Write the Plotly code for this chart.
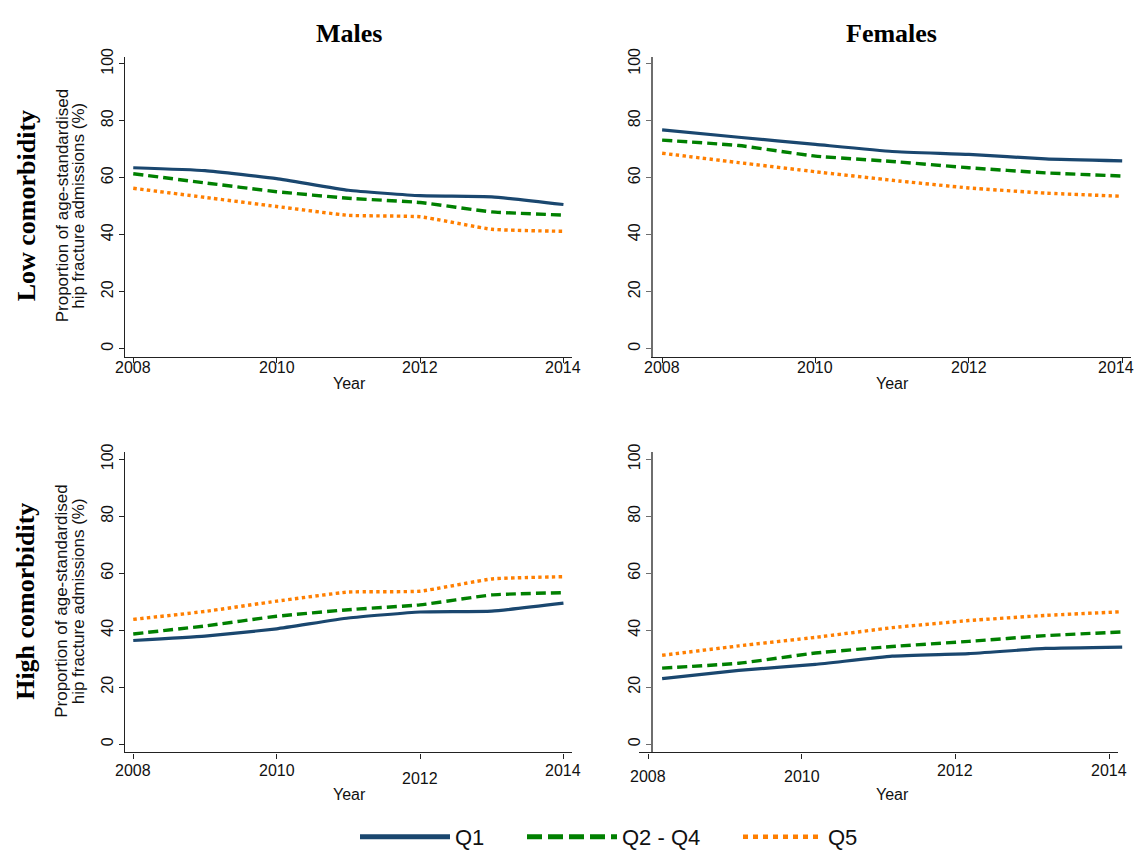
import plotly.graph_objects as go

# ---------------- data ----------------
years = [2008, 2009, 2010, 2011, 2012, 2013, 2014]
x_tick_vals = [2008, 2010, 2012, 2014]
x_tick_text = ["2008", "2010", "2012", "2014"]
y_tick_vals = [0, 20, 40, 60, 80, 100]
y_grid_vals = [20, 40, 60, 80]

series_names = ["Q1", "Q2 - Q4", "Q5"]

males_low_q1 = [63.5, 62.5, 59.7, 55.6, 53.7, 53.3, 50.6]
males_low_q24 = [61.4, 58.2, 55.1, 52.8, 51.3, 48.0, 46.9]
males_low_q5 = [56.3, 53.1, 49.9, 46.8, 46.3, 41.9, 41.2]

females_low_q1 = [76.8, 74.2, 71.7, 69.2, 68.2, 66.6, 65.9]
females_low_q24 = [73.2, 71.3, 67.6, 65.7, 63.5, 61.7, 60.6]
females_low_q5 = [68.6, 65.3, 62.1, 59.1, 56.4, 54.6, 53.5]

males_high_q1 = [36.4, 37.9, 40.5, 44.3, 46.4, 46.7, 49.5]
males_high_q24 = [38.7, 41.5, 44.9, 47.2, 48.9, 52.4, 53.2]
males_high_q5 = [43.8, 46.6, 50.2, 53.4, 53.7, 58.0, 58.8]

females_high_q1 = [23.0, 25.9, 28.0, 30.9, 31.8, 33.6, 34.1]
females_high_q24 = [26.7, 28.4, 32.0, 34.3, 36.1, 38.1, 39.4]
females_high_q5 = [31.2, 34.5, 37.5, 40.9, 43.4, 45.2, 46.5]

col_titles = ["Males", "Females"]
row_titles = ["Low comorbidity", "High comorbidity"]
y_title_lines = ["Proportion of age-standardised", "hip fracture admissions (%)"]
x_title = "Year"

# ---------------- style ----------------
PAGE_W, PAGE_H = 1143, 866
BODY = 8  # default page margin of the html body
W, H = PAGE_W - 2 * BODY, PAGE_H - 2 * BODY
NAVY, GREEN, ORANGE = "#1a476f", "#008000", "#ff7f00"
SANS = "Liberation Sans, Arial, sans-serif"
SERIF = "Liberation Serif, Times New Roman, serif"
GRID = "#e5eef1"


def fx(p):
    return (p - BODY) / W


def fy(p):
    return 1 - (p - BODY) / H


x_range = [2007.885, 2014.115]
y_range = [-2.9, 102.5]

left_dom = [fx(125), fx(571.7)]
right_dom = [fx(653.3), fx(1131)]
br_axis_dom = [fx(639.3), fx(1117.9)]
top_dom = [fy(359.5), fy(49)]
bot_dom = [fy(768.5), fy(458)]

line_styles = [
    dict(color=NAVY, width=3.2, dash="solid"),
    dict(color=GREEN, width=3.4, dash="10px,5px"),
    dict(color=ORANGE, width=3.4, dash="dot"),
]
legend_styles = [
    dict(color=NAVY, width=5, dash="solid"),
    dict(color=GREEN, width=5, dash="15px,6px"),
    dict(color=ORANGE, width=4.5, dash="5px,5px"),
]

fig = go.Figure()

panels = [
    ("x", "y", [males_low_q1, males_low_q24, males_low_q5]),
    ("x2", "y2", [females_low_q1, females_low_q24, females_low_q5]),
    ("x3", "y3", [males_high_q1, males_high_q24, males_high_q5]),
    ("x4", "y4", [females_high_q1, females_high_q24, females_high_q5]),
]
for xa, ya, ser in panels:
    for k in [2, 1, 0]:
        fig.add_trace(go.Scatter(x=years, y=ser[k], mode="lines", xaxis=xa, yaxis=ya,
                                 line=dict(**line_styles[k], shape="spline", smoothing=0.4),
                                 showlegend=False, hoverinfo="skip"))

# empty trace carrying the (slightly shifted) visible x axis of the bottom-right panel
fig.add_trace(go.Scatter(x=[None], y=[None], xaxis="x9", yaxis="y10", showlegend=False,
                         hoverinfo="skip"))

legend_ids = ["legend", "legend2", "legend3"]
for k in range(3):
    fig.add_trace(go.Scatter(x=[None], y=[None], mode="lines", name=series_names[k],
                             line=legend_styles[k], legend=legend_ids[k],
                             xaxis="x", yaxis="y", showlegend=True, hoverinfo="skip"))


def xaxis(dom, anchor, lc, showline=True):
    return dict(domain=dom, anchor=anchor, range=x_range, tickmode="array",
                tickvals=x_tick_vals, ticktext=x_tick_text, showline=showline,
                linecolor=lc, linewidth=1.2, ticks="outside" if showline else "",
                ticklen=5, tickcolor=lc, tickwidth=1.2, showgrid=False, zeroline=False,
                showticklabels=False, fixedrange=True)


def yaxis(dom, anchor, lc, lw):
    return dict(domain=dom, anchor=anchor, range=y_range, tickmode="array",
                tickvals=y_tick_vals, showline=True, linecolor=lc, linewidth=lw,
                ticks="outside", ticklen=5, tickcolor=lc, tickwidth=1.2, tickangle=-90,
                showgrid=False, zeroline=False,
                tickfont=dict(family=SANS, size=16, color="#111"), fixedrange=True)


def gridaxis(dom, anchor, over):
    return dict(domain=dom, anchor=anchor, overlaying=over, range=y_range, tickmode="array",
                tickvals=y_grid_vals, showgrid=True, gridcolor=GRID, gridwidth=1,
                showticklabels=False, ticks="", showline=False, zeroline=False,
                fixedrange=True)


LC_L, LC_R = "#222222", "#6e6e6e"

layout = dict(
    width=W, height=H, margin=dict(l=0, r=0, t=0, b=0),
    paper_bgcolor="white", plot_bgcolor="rgba(0,0,0,0)",
    xaxis=xaxis(left_dom, "y", LC_L),
    xaxis2=xaxis(right_dom, "y2", LC_L),
    xaxis3=xaxis(left_dom, "y3", LC_L),
    xaxis4=xaxis(right_dom, "y4", LC_L, showline=False),
    xaxis9=xaxis(br_axis_dom, "y10", LC_L),
    yaxis=yaxis(top_dom, "x", LC_L, 1.2),
    yaxis2=yaxis(top_dom, "x2", LC_R, 2),
    yaxis3=yaxis(bot_dom, "x3", LC_L, 1.2),
    yaxis4=yaxis(bot_dom, "x4", LC_R, 2),
    yaxis5=gridaxis(top_dom, "x", "y"),
    yaxis6=gridaxis(top_dom, "x2", "y2"),
    yaxis7=gridaxis(bot_dom, "x3", "y3"),
    yaxis8=gridaxis(bot_dom, "x4", "y4"),
    yaxis10=dict(domain=bot_dom, anchor="x9", range=y_range, visible=False, fixedrange=True),
    showlegend=True,
)

legend_x = [355, 522, 738]
legend_w = [90, 90, 80]
for k, lid in enumerate(legend_ids):
    layout[lid] = dict(x=fx(legend_x[k]), y=fy(856), xanchor="left", yanchor="middle",
                       orientation="h", itemwidth=legend_w[k], bgcolor="rgba(0,0,0,0)",
                       font=dict(family=SANS, size=22, color="#111"),
                       borderwidth=0, itemclick=False, itemdoubleclick=False)

fig.update_layout(**layout)

ann = []
for txt, xc in zip(col_titles, [349, 891.7]):
    ann.append(dict(text="<b>%s</b>" % txt, x=fx(xc), y=fy(25), xref="paper", yref="paper",
                    showarrow=False, font=dict(family=SERIF, size=26, color="black"),
                    xanchor="center", yanchor="middle"))
for txt, yc in zip(row_titles, [203.75, 612.75]):
    ann.append(dict(text="<b>%s</b>" % txt, x=fx(26), y=fy(yc), xref="paper", yref="paper",
                    showarrow=False, textangle=-90, font=dict(family=SERIF, size=26, color="black"),
                    xanchor="center", yanchor="middle"))
    for line, xc in zip(y_title_lines, [62, 78.5]):
        ann.append(dict(text=line, x=fx(xc), y=fy(yc), xref="paper", yref="paper",
                        showarrow=False, textangle=-90,
                        font=dict(family=SANS, size=17, color="#111"),
                        xanchor="center", yanchor="middle"))
for xc in [349, 892.5]:
    for yc in [387, 812]:
        ann.append(dict(text=x_title, x=fx(xc), y=fy(yc), xref="paper", yref="paper",
                        showarrow=False, font=dict(family=SANS, size=16, color="#111"),
                        xanchor="center", yanchor="middle"))
# x tick labels for all panels (vertical offsets as in the reference)
label_rows = [
    ("x", [370, 370, 370, 370], [0, 0, 0, 0]),
    ("x2", [370, 370, 370, 370], [0, 0, 0, -6]),
    ("x3", [786.7, 786.7, 795, 786.7], [0, 0, 0, 0]),
    ("x9", [793.3, 793.3, 786.7, 786.7], [0, 0, 0, 0]),
]
for xref, ys, shifts in label_rows:
    for xv, txt, yl, sh in zip(x_tick_vals, x_tick_text, ys, shifts):
        ann.append(dict(text=txt, x=xv, y=fy(yl), xref=xref, yref="paper", showarrow=False,
                        font=dict(family=SANS, size=16, color="#111"), xshift=sh,
                        xanchor="center", yanchor="middle"))

fig.update_layout(annotations=ann)
fig.write_html("out.html")
